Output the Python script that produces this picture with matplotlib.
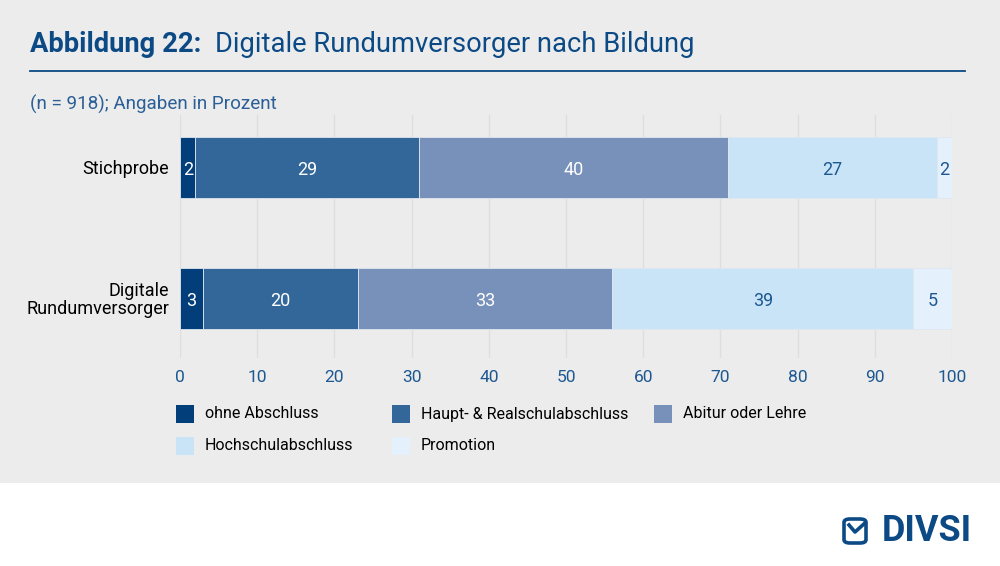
import matplotlib
matplotlib.use("Agg")
import matplotlib.pyplot as plt
from matplotlib.patches import Rectangle, FancyBboxPatch
from matplotlib.lines import Line2D

plt.rcParams['font.family'] = ['Roboto', 'DejaVu Sans']

groups = ["Stichprobe", "Digitale\nRundumversorger"]
levels = ["ohne Abschluss", "Haupt- & Realschulabschluss", "Abitur oder Lehre",
          "Hochschulabschluss", "Promotion"]
stichprobe = [2, 29, 40, 27, 2]
rundum = [3, 20, 33, 39, 5]
colors = ["#023f7a", "#336699", "#7891bb", "#c9e4f7", "#e4f1fc"]
label_colors = ["white", "white", "white", "#1d5891", "#1d5891"]
xticks = [0, 10, 20, 30, 40, 50, 60, 70, 80, 90, 100]

navy = "#0c4a86"
tickblue = "#1d5891"
W, H = 1000, 566

fig = plt.figure(figsize=(10, 5.66), dpi=100, facecolor="white")

def px(x, y):
    return x / W, 1 - y / H

# grey panel
fig.add_artist(Rectangle((0, 1 - 483 / H), 1, 483 / H, transform=fig.transFigure,
                         facecolor="#ececec", edgecolor="none", zorder=0))

# title
fig.text(*px(30, 45), "Abbildung 22:", fontsize=19.7, fontweight="bold", color=navy, va="center")
fig.text(*px(215, 45), "Digitale Rundumversorger nach Bildung", fontsize=19.7, color=navy, va="center")
fig.add_artist(Line2D([30 / W, 965 / W], [1 - 71 / H] * 2, transform=fig.transFigure,
                      color=navy, lw=1.3))
fig.text(*px(30, 104), "(n = 918); Angaben in Prozent", fontsize=13.6, color="#2b5f96", va="center")

ax = fig.add_axes([0.18, 1 - 358 / H, 0.772, (358 - 115) / H])
ax.set_facecolor("none")
data = [stichprobe, rundum]
for gi, vals in enumerate(data):
    left = 0
    for i, v in enumerate(vals):
        ax.barh(gi, v, left=left, height=0.466, color=colors[i],
                edgecolor="#dfe6ef", linewidth=0.6, zorder=2)
        ax.text(left + v / 2, gi + 0.02, str(v), ha="center", va="center",
                color=label_colors[i], fontsize=13, zorder=3)
        left += v

ax.set_xlim(0, 100)
ax.set_ylim(1.454, -0.4)
ax.set_xticks(xticks)
ax.set_yticks(range(len(groups)))
ax.set_yticklabels(groups, fontsize=13, color="black", linespacing=1.0)
ax.tick_params(axis="x", length=0, pad=9, labelsize=12.5, labelcolor=tickblue)
ax.tick_params(axis="y", length=0, pad=8)
ax.grid(axis="x", color="#dedede", lw=1, zorder=0)
for s in ax.spines.values():
    s.set_visible(False)

# legend, row-wise
leg_pos = [(176, 414), (392, 414), (654, 414), (176, 446), (392, 446)]
for (lx, ly), lab, c in zip(leg_pos, levels, colors):
    fig.add_artist(Rectangle(px(lx, ly + 9), 18 / W, 18 / H, transform=fig.transFigure,
                             facecolor=c, edgecolor="none"))
    fig.text(*px(lx + 29, ly), lab, fontsize=11.5, color="black", va="center")

# logo
fig.add_artist(FancyBboxPatch(px(844, 543), 22 / W, 24 / H, transform=fig.transFigure,
                              boxstyle="round,pad=0,rounding_size=0.006",
                              facecolor="none", edgecolor=navy, lw=2.6))
fig.add_artist(Line2D([849 / W, 855 / W, 865 / W], [1 - 525 / H, 1 - 532 / H, 1 - 523 / H],
                      transform=fig.transFigure, color=navy, lw=2.6))
fig.text(*px(882, 531), "DIVSI", fontsize=26, fontweight="bold", color=navy, va="center")

fig.savefig("out.png", dpi=100, facecolor="white")
